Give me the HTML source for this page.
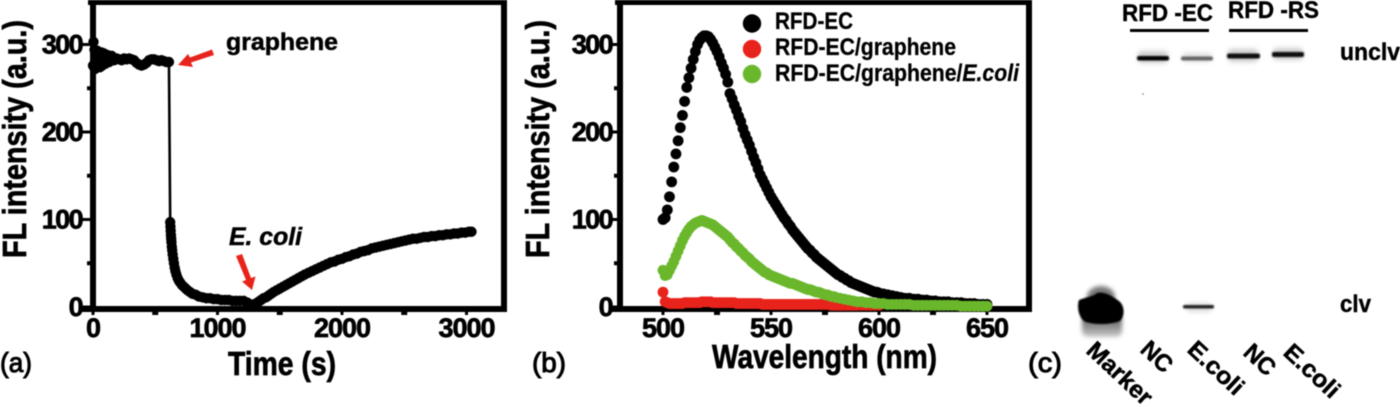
<!DOCTYPE html>
<html lang="en">
<head>
<meta charset="utf-8">
<title>Fluorescence and gel figure</title>
<style>
html,body{margin:0;padding:0;background:#fff;width:1400px;height:407px;overflow:hidden}
svg{display:block;filter:blur(.55px)}
text{font-family:"Liberation Sans",sans-serif;font-weight:700;fill:#000;stroke:#000;stroke-width:.5px}
.tick{font-size:27px;stroke-width:.7px}
.title{font-size:33px;stroke-width:.7px}
.panel{font-size:28px;font-weight:400;stroke-width:1px}
.leg{font-size:24px;stroke-width:.3px}
.gel{font-size:24px;stroke-width:.4px}
</style>
</head>
<body>
<svg id="figure" width="1400" height="407" viewBox="0 0 1400 407" xmlns="http://www.w3.org/2000/svg">
<defs>
<filter id="b1" x="-30%" y="-200%" width="160%" height="500%"><feGaussianBlur stdDeviation="0.9"/></filter>
<filter id="b2" x="-30%" y="-50%" width="160%" height="200%"><feGaussianBlur stdDeviation="2"/></filter>
<filter id="b4" x="-30%" y="-300%" width="160%" height="700%"><feGaussianBlur stdDeviation="2.5"/></filter>
<linearGradient id="smear" x1="0" y1="0" x2="0" y2="1"><stop offset="0" stop-color="#444"/><stop offset="1" stop-color="#ccc"/></linearGradient>
</defs>

<g id="panel-a">
<g id="a-axes"></g>
<g id="a-series"></g>
<text class="title" transform="translate(26,258) rotate(-90)" textLength="238" lengthAdjust="spacingAndGlyphs">FL intensity (a.u.)</text>
<text class="title" x="228" y="375" textLength="108" lengthAdjust="spacingAndGlyphs">Time (s)</text>
<text class="panel" x="0" y="372" textLength="32" lengthAdjust="spacingAndGlyphs">(a)</text>
<text x="226" y="50" font-size="24" textLength="112" lengthAdjust="spacingAndGlyphs">graphene</text>
<text x="229" y="245" font-size="25" font-style="italic" textLength="73" lengthAdjust="spacingAndGlyphs">E. coli</text>
<polygon fill="#e8231b" points="212,49.5 214,55 191,62.5 193,67 178,65 188,54 190,57.5"/>
<polygon fill="#e8231b" points="236,256 242,254 251,278 255.5,276.5 252,290 242,281.5 246,280"/>
</g>

<g id="panel-b">
<g id="b-axes"></g>
<g id="b-black"></g>
<g id="b-red"></g>
<g id="b-green"></g>
<text class="title" transform="translate(549,258) rotate(-90)" textLength="238" lengthAdjust="spacingAndGlyphs">FL intensity (a.u.)</text>
<text class="title" x="712" y="368" textLength="225" lengthAdjust="spacingAndGlyphs">Wavelength (nm)</text>
<text class="panel" x="532" y="372" textLength="34" lengthAdjust="spacingAndGlyphs">(b)</text>
<g>
<circle cx="752" cy="23.5" r="9.2" fill="#000"/>
<circle cx="752" cy="49" r="9.2" fill="#e8231b"/>
<circle cx="752" cy="74" r="9.2" fill="#6ab72c"/>
<text class="leg" x="775" y="29" textLength="78" lengthAdjust="spacingAndGlyphs">RFD-EC</text>
<text class="leg" x="775" y="55" textLength="181" lengthAdjust="spacingAndGlyphs">RFD-EC/graphene</text>
<text class="leg" x="775" y="81" textLength="244" lengthAdjust="spacingAndGlyphs">RFD-EC/graphene/<tspan font-style="italic">E.coli</tspan></text>
</g>
</g>

<g id="panel-c">
<text class="gel" x="1122" y="21" textLength="91" lengthAdjust="spacingAndGlyphs">RFD -EC</text>
<text class="gel" x="1228" y="18" textLength="91" lengthAdjust="spacingAndGlyphs">RFD -RS</text>
<rect x="1130" y="29" width="79" height="3" fill="#000"/>
<rect x="1229" y="29" width="79" height="3" fill="#000"/>
<rect x="1138" y="51" width="30" height="12" rx="4" fill="#ccc" filter="url(#b4)"/>
<rect x="1182" y="53" width="30" height="9" rx="4" fill="#ddd" filter="url(#b4)"/>
<rect x="1228" y="49" width="30" height="13" rx="4" fill="#ccc" filter="url(#b4)"/>
<rect x="1273" y="48" width="30" height="12" rx="4" fill="#ccc" filter="url(#b4)"/>
<rect x="1137" y="56" width="32" height="4.5" rx="2" fill="#000" filter="url(#b1)"/>
<rect x="1181" y="56.5" width="32" height="4" rx="2" fill="#666" filter="url(#b1)"/>
<rect x="1227" y="53.5" width="33" height="5" rx="2" fill="#0a0a0a" filter="url(#b1)"/>
<rect x="1272" y="52" width="32" height="5" rx="2" fill="#0a0a0a" filter="url(#b1)"/>
<circle cx="1143" cy="94" r="1" fill="#aaa"/>
<rect x="1082" y="314" width="40" height="23" rx="6" fill="url(#smear)" filter="url(#b2)"/>
<ellipse cx="1101" cy="297" rx="14" ry="11" fill="#777" filter="url(#b2)"/>
<path d="M1079,300 C1086,297 1092,297 1097,293 C1104,291 1112,296 1119,301 C1125,306 1125,316 1120,321 C1110,325 1092,325 1084,321 C1078,316 1077,306 1079,300 Z" fill="#000" filter="url(#b1)"/>
<rect x="1186" y="303" width="26" height="9" rx="4" fill="#ddd" filter="url(#b4)"/>
<rect x="1183" y="305" width="31" height="3.5" rx="1.5" fill="#222" filter="url(#b1)"/>
<text class="gel" x="1340" y="60" textLength="60" lengthAdjust="spacingAndGlyphs">unclv</text>
<text class="gel" x="1340" y="312" textLength="31" lengthAdjust="spacingAndGlyphs">clv</text>
<text class="panel" x="1028" y="372" textLength="34" lengthAdjust="spacingAndGlyphs">(c)</text>
<text font-size="24" transform="translate(1085,352) rotate(43)" textLength="80" lengthAdjust="spacingAndGlyphs">Marker</text>
<text font-size="24" transform="translate(1139,351) rotate(43)" textLength="34" lengthAdjust="spacingAndGlyphs">NC</text>
<text font-size="24" transform="translate(1186,351) rotate(43)" textLength="67" lengthAdjust="spacingAndGlyphs">E.coli</text>
<text font-size="24" transform="translate(1242,354) rotate(43)" textLength="34" lengthAdjust="spacingAndGlyphs">NC</text>
<text font-size="24" transform="translate(1282,354) rotate(43)" textLength="67" lengthAdjust="spacingAndGlyphs">E.coli</text>
</g>
</svg>

<script>
var timeSeconds = [0,4,8,12,16,20,26,32,40,48,56,65,75,85,100,115,130,150,170,190,210,230,250,270,290,310,330,350,370,390,410,430,450,470,490,510,530,550,570,590,610,620,622,624,626,628,630,633,636,640,645,650,656,662,670,680,690,700,715,730,745,760,780,800,825,850,880,910,940,970,1000,1030,1060,1090,1120,1150,1180,1210,1240,1265,1290,1310,1330,1350,1370,1390,1410,1430,1450,1475,1500,1525,1550,1575,1600,1625,1650,1675,1700,1730,1760,1790,1820,1850,1880,1910,1940,1970,2000,2030,2060,2090,2120,2150,2180,2210,2240,2270,2300,2330,2360,2390,2420,2450,2480,2510,2540,2570,2600,2630,2660,2690,2720,2750,2780,2810,2840,2870,2900,2930,2960,2990,3020,3040];
var timeIntensity = [276,303,274,294,272,292,275,293,277,290,274,291,276,290,278,288,280,287,282,284,283,282,284,283,284,283,282,279,277,276,277,279,282,283,283,282,281,282,281,280,280,97,92,87,82,78,74,69,65,60,55,50,45,41,37,33,30,28,25,23,21,19,17,15,14,12,11,10,10,9,9,8,8,8,7,7,7,7,5,2,3,4,6,8,10,11,13,15,17,19,21,23,25,27,29,31,33,35,37,39,41,43,45,47,49,51,52,54,55,57,58,60,61,63,64,65,67,68,69,70,71,72,73,74,75,76,77,78,78,79,80,80,81,81,82,82,83,83,84,84,85,85,86,86];
var timeTickLabels = [0,1000,2000,3000];
var intensityTickLabels = [0,100,200,300];
var waveTickLabels = [500,550,600,650];
var minorTimeTicks = [500,1500,2500];
var minorIntensityTicks = [50,150,250];
var minorWaveTicks = [525,575,625];

var blackWave = [500,501,502,503,504,505,506,507,508,509,510,511,512,513,514,515,516,517,518,519,520,521,522,523,524,525,526,527,528,529,530,531,532,533,534,535,536,537,538,539,540,541,542,543,544,545,546,547,548,549,550,551,552,553,554,555,556,557,558,559,560,561,562,563,564,565,566,567,568,569,570,571,572,573,574,575,576,577,578,579,580,581,582,583,584,585,586,587,588,589,590,591,592,593,594,595,596,597,598,599,600,602,604,606,608,610,612,614,616,618,620,622,624,626,628,630,632,634,636,638,640,642,644,646,648,650];
var blackIntensity = [100,102,111,126,143,160,175,190,205,219,235,251,262,273,283,292,300,305,308,310,310,309,306,302,297,292,286,279,273,266,257,244,238,231,225,218,212,204,197,191,185,178,171,165,158,151,146,141,136,131,126,122,118,114,110,106,102,99,95,92,88,85,82,79,76,73,70,67,65,62,60,57,55,53,51,49,47,45,43,41,39,37,36,34,33,31,30,28,27,26,25,24,23,22,21,20,19,18,17,17,16,15,14,13,12,11,10,10,9,9,8,8,7,7,6,6,6,5,5,5,4,4,4,3,3,3];

var redWave = [500,501,502,503,504,505,506,507,508,509,510,511,512,513,514,515,516,517,518,519,520,521,522,523,524,525,526,527,528,529,530,531,532,533,534,535,536,537,538,539,540,541,542,543,544,545,546,547,548,549,550,551,552,553,554,555,556,557,558,559,560,561,562,563,564,565,566,567,568,569,570,571,572,573,574,575,576,577,578,579,580,581,582,583,584,585,586,587,588,589,590,592,594,596,598,600];
var redIntensity = [17,6,5,4,4,4,4,4,4,4,5,5,5,5,5,5,5,5,6,6,6,6,6,5,5,5,5,5,5,5,5,5,5,5,4,4,4,4,4,4,4,4,4,4,4,4,3,3,3,3,3,3,3,3,3,3,3,3,3,3,3,3,3,3,3,3,3,3,3,3,3,3,3,3,3,3,3,3,2,2,2,2,2,2,2,2,2,2,2,2,2,2,2,2,2,2];

var greenWave = [500,501,502,503,504,505,506,507,508,509,510,511,512,513,514,515,516,517,518,519,520,521,522,523,524,525,526,527,528,529,530,531,532,533,534,535,536,537,538,539,540,541,542,543,544,545,546,547,548,549,550,551,552,553,554,555,556,557,558,559,560,561,562,563,564,565,566,567,568,569,570,571,572,573,574,575,576,577,578,579,580,582,584,586,588,590,592,594,596,598,600,602,604,606,608,610,612,614,616,618,620,622,624,626,628,630,632,634,636,638,640,642,644,646,648,650];
var greenIntensity = [42,36,37,42,47,52,58,64,70,76,81,85,89,92,94,96,97,98,99,98,97,96,95,94,92,90,88,86,84,82,80,77,74,72,69,67,64,62,59,57,55,52,50,48,46,44,42,40,39,37,36,35,34,33,32,31,30,29,28,27,27,26,25,24,23,22,21,20,20,19,18,17,17,16,15,14,14,13,12,12,11,10,9,8,7,6,6,5,5,4,4,4,3,3,3,3,3,3,2,2,2,2,2,2,2,2,2,2,2,1,1,1,1,1,1,1];

var svgNS = 'http://www.w3.org/2000/svg';
function make(tag, parent) {
  var node = document.createElementNS(svgNS, tag);
  parent.appendChild(node);
  return node;
}
function rectAt(node, x, y, w, h) {
  node.setAttribute('x', x);
  node.setAttribute('y', y);
  node.setAttribute('width', w);
  node.setAttribute('height', h);
  node.setAttribute('fill', '#000');
}
function xTime(t) { return 93 + t * 0.1245; }
function xWave(w) { return 663 + (w - 500) * 2.16; }
function yIntensity(v) { return 307 - v * 0.875; }

function drawAxes(parent, left, right, xScale, xLabels, xMinor, labelRight) {
  var el;
  el = make('rect', parent);
  
  
  rectAt(el, left, 0, 6, 312);
  el = make('rect', parent);
  
  
  rectAt(el, left - 8, 306, right - left + 8, 6);
  el = make('rect', parent);
  
  
  rectAt(el, left - 2, 0, right - left + 2, 5);
  el = make('rect', parent);
  
  
  rectAt(el, right - 6, 0, 6, 312);
  intensityTickLabels.forEach(function (v) {
    var tick = make('rect', parent);
    
    
    rectAt(tick, left - 8, yIntensity(v) - 1.5, 8, 3);
    var label = make('text', parent);
    
    
    label.setAttribute('class', 'tick');
    label.setAttribute('x', labelRight);
    label.setAttribute('y', yIntensity(v) + 9);
    label.setAttribute('text-anchor', 'end');
    label.setAttribute('letter-spacing', '-1.6');
    label.textContent = v;
  });
  minorIntensityTicks.forEach(function (v) {
    var tick = make('rect', parent);
    
    
    rectAt(tick, left - 3, yIntensity(v) - 2, 3, 4);
  });
  xLabels.forEach(function (v) {
    var tick = make('rect', parent);
    
    
    rectAt(tick, xScale(v) - 1.5, 312, 3, 3);
    var label = make('text', parent);
    
    
    label.setAttribute('class', 'tick');
    label.setAttribute('x', xScale(v));
    label.setAttribute('y', 337);
    label.setAttribute('text-anchor', 'middle');
    label.setAttribute('letter-spacing', '-1');
    label.textContent = v;
  });
  xMinor.forEach(function (v) {
    var tick = make('rect', parent);
    
    
    rectAt(tick, xScale(v) - 3, 312, 6, 3);
  });
}

drawAxes(document.getElementById('a-axes'), 90, 507, xTime, timeTickLabels, minorTimeTicks, 82);
drawAxes(document.getElementById('b-axes'), 617, 1032, xWave, waveTickLabels, minorWaveTicks, 612);

var aSeries = document.getElementById('a-series');
var traceLine = make('polyline', aSeries);


traceLine.setAttribute('fill', 'none');
traceLine.setAttribute('stroke', '#000');
traceLine.setAttribute('stroke-width', '2.6');
traceLine.setAttribute('points', timeSeconds.map(function (t, i) {
  return xTime(t) + ',' + yIntensity(timeIntensity[i]);
}).join(' '));
timeSeconds.forEach(function (t, i) {
  var dot = make('circle', aSeries);
  
  
  dot.setAttribute('cx', xTime(t));
  dot.setAttribute('cy', yIntensity(timeIntensity[i]));
  dot.setAttribute('r', 5.2);
  dot.setAttribute('fill', '#000');
});

blackWave.forEach(function (w, i) {
  var dot = make('circle', document.getElementById('b-black'));
  
  
  dot.setAttribute('cx', xWave(w));
  dot.setAttribute('cy', yIntensity(blackIntensity[i]));
  dot.setAttribute('r', 5.4);
  dot.setAttribute('fill', '#000');
});
redWave.forEach(function (w, i) {
  var dot = make('circle', document.getElementById('b-red'));
  
  
  dot.setAttribute('cx', xWave(w));
  dot.setAttribute('cy', yIntensity(redIntensity[i]));
  dot.setAttribute('r', 5.4);
  dot.setAttribute('fill', '#e8231b');
});
greenWave.forEach(function (w, i) {
  var dot = make('circle', document.getElementById('b-green'));
  
  
  dot.setAttribute('cx', xWave(w));
  dot.setAttribute('cy', yIntensity(greenIntensity[i]));
  dot.setAttribute('r', 5.4);
  dot.setAttribute('fill', '#6ab72c');
});
</script>
</body>
</html>
